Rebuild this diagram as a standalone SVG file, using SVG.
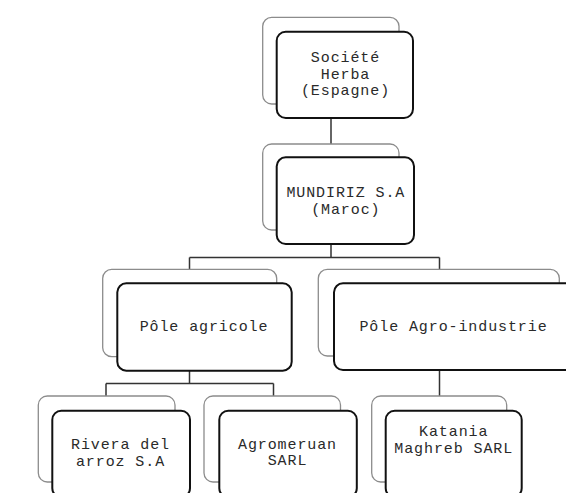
<svg xmlns="http://www.w3.org/2000/svg" width="566" height="493" viewBox="0 0 566 493">
<style>
.back{fill:#fff;stroke:#8c8c8c;stroke-width:1.3}
.front{fill:#fff;stroke:#111;stroke-width:2}
.lbl{font-family:"Liberation Mono","Courier New",monospace;font-size:15px;letter-spacing:0.9px;fill:#2a2a2a;text-anchor:middle}
.conn{stroke:#333;stroke-width:1.5;fill:none}
</style>
<rect width="566" height="493" fill="#fff"/>
<g id="connectors">
<path class="conn" d="M331 118V144"/>
<path class="conn" d="M331 244V257.5M189.5 257.5H439.5M189.5 257.5V269.3M439.5 257.5V269.3"/>
<path class="conn" d="M189.5 370.7V383.5M106 383.5H273.5M106 383.5V396M273.5 383.5V396"/>
<path class="conn" d="M439.5 370V396"/>
</g>
<g id="herba">
<rect class="back" x="262.7" y="17.3" width="136.3" height="86.7" rx="9"/>
<rect class="front" x="276.7" y="31.7" width="136.3" height="86.3" rx="9"/>
<text class="lbl" x="345.5" y="62">Société</text>
<text class="lbl" x="345.5" y="79">Herba</text>
<text class="lbl" x="345.5" y="95">(Espagne)</text>
</g>
<g id="mundiriz">
<rect class="back" x="262.7" y="144" width="136.3" height="86" rx="9"/>
<rect class="front" x="276.7" y="157.3" width="137.3" height="86.7" rx="9"/>
<text class="lbl" x="345.8" y="197">MUNDIRIZ S.A</text>
<text class="lbl" x="345.8" y="213.5">(Maroc)</text>
</g>
<g id="pole-agricole">
<rect class="back" x="102.7" y="269.3" width="174" height="87.4" rx="9"/>
<rect class="front" x="117.3" y="283.3" width="174.4" height="87.4" rx="9"/>
<text class="lbl" x="204" y="331">Pôle agricole</text>
</g>
<g id="pole-agro-industrie">
<rect class="back" x="318.3" y="269.3" width="241" height="86.7" rx="9"/>
<rect class="front" x="334" y="283.3" width="241" height="86.7" rx="9"/>
<text class="lbl" x="453.5" y="331">Pôle Agro-industrie</text>
</g>
<g id="rivera">
<rect class="back" x="38.3" y="396" width="136.7" height="86" rx="9"/>
<rect class="front" x="52.3" y="410.7" width="137.7" height="86.5" rx="9"/>
<text class="lbl" x="120.5" y="449">Rivera del</text>
<text class="lbl" x="120.5" y="466">arroz S.A</text>
</g>
<g id="agromeruan">
<rect class="back" x="204" y="396" width="136.5" height="86" rx="9"/>
<rect class="front" x="219.3" y="410.7" width="137.5" height="86.5" rx="9"/>
<text class="lbl" x="287.5" y="448.5">Agromeruan</text>
<text class="lbl" x="287.5" y="465">SARL</text>
</g>
<g id="katania">
<rect class="back" x="371.7" y="396" width="135" height="86" rx="9"/>
<rect class="front" x="385.7" y="410.7" width="136" height="86.5" rx="9"/>
<text class="lbl" x="453.7" y="436">Katania</text>
<text class="lbl" x="453.7" y="453.3">Maghreb SARL</text>
</g>
</svg>
